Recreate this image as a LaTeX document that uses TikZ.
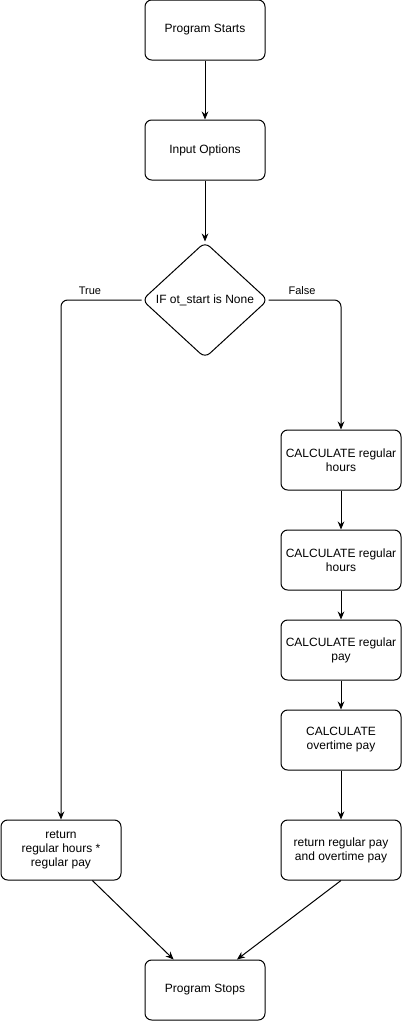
\documentclass[tikz,border=0pt]{standalone}
\usepackage{fontspec}
\setmainfont{Liberation Sans}
\usetikzlibrary{arrows.meta,shapes.geometric,positioning}

\begin{document}
\begin{tikzpicture}[x=0.75pt, y=-0.75pt, line width=0.75pt,
		every node/.style={font=\fontsize{9}{10.5}\selectfont},
		block/.style={draw, rounded corners=5pt, minimum width=90pt, minimum height=45pt, align=center, inner sep=1pt},
		decision/.style={draw, diamond, rounded corners=5pt, minimum width=94.5pt, minimum height=87pt, inner sep=0pt},
		flow/.style={-{Stealth[length=6pt, width=5pt]}},
		branch/.style={font=\fontsize{8.25}{10}\selectfont}]
				\useasboundingbox (0, 0) rectangle (401, 1021);

				\node[block] (start) at (205, 30) {Program Starts};
				\node[block] (input) at (205, 150) {Input Options};
				\node[decision] (check) at (205, 300) {IF ot\_start is None};
				\node[block] (calc1) at (341, 460) {CALCULATE regular\\hours};
				\node[block] (calc2) at (341, 560) {CALCULATE regular\\hours};
				\node[block] (calc3) at (341, 650) {CALCULATE regular\\pay};
				\node[block] (calc4) at (341, 740) {CALCULATE\\overtime pay};
				\node[block] (retl) at (61, 850) {return\\regular hours *\\regular pay};
				\node[block] (retr) at (341, 850) {return regular pay\\and overtime pay};
				\node[block] (stop) at (205, 990) {Program Stops};
				\node[branch] (true) at (90, 291) {True};
				\node[branch] (false) at (302, 291) {False};

				\draw [flow] (start) to (input);
				\draw [flow] (input) to (check);
				\draw [flow, rounded corners=5pt] (check.west) -| (retl.north);
				\draw [flow, rounded corners=5pt] (check.east) -| (calc1.north);
				\draw [flow] (calc1) to (calc2);
				\draw [flow] (calc2) to (calc3);
				\draw [flow] (calc3) to (calc4);
				\draw [flow] (calc4) to (retr);
				\draw [flow] (retl) to (stop);
				\draw [flow] (retr.south) to ([xshift=24pt]stop.north);
		\end{tikzpicture}
\end{document}
